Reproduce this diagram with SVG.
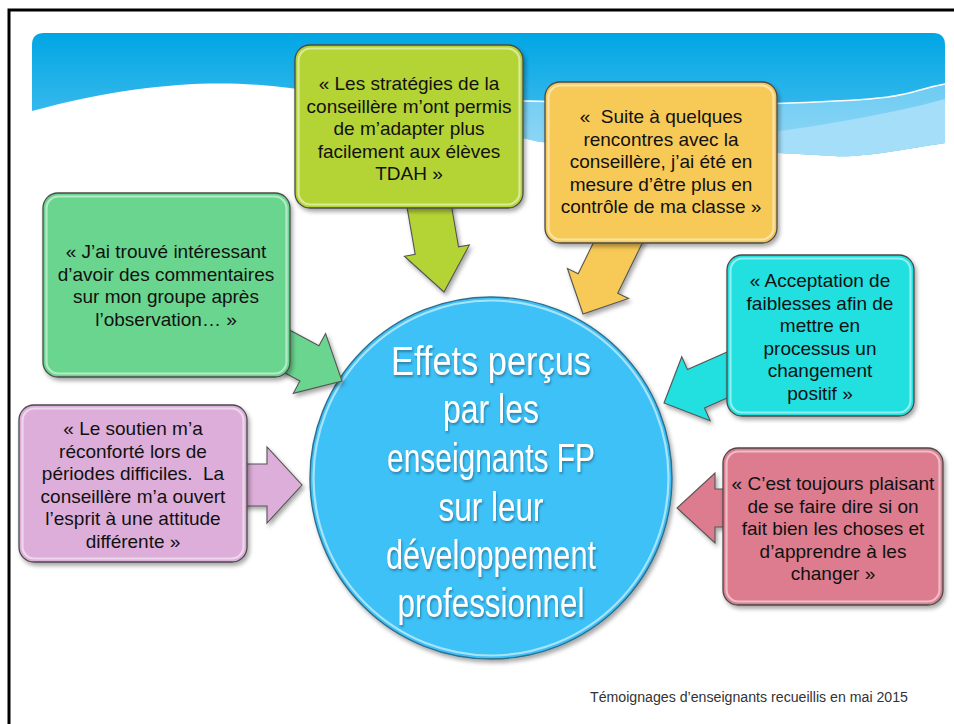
<svg xmlns="http://www.w3.org/2000/svg" width="954" height="724" viewBox="0 0 954 724">
<style>
.frame{fill:none;stroke:#000;stroke-width:3}
.box{stroke:#4a4a4a;stroke-width:1.3;filter:url(#sh)}
.gloss{fill:none;stroke:#fff;stroke-opacity:.5;stroke-width:2.2}
.arr{stroke:#555;stroke-width:1.1;filter:url(#sh)}
.t{font-family:"Liberation Sans",Arial,sans-serif;font-size:19px;fill:#111;text-anchor:middle}
.ct{font-family:"Liberation Sans",Arial,sans-serif;font-size:41px;fill:#fff;text-anchor:middle;filter:url(#tsh)}
.foot{font-family:"Liberation Sans",Arial,sans-serif;font-size:14px;fill:#333}
.green{fill:#6bd58e}.lime{fill:#b4d335}.orange{fill:#f7c956}.cyan{fill:#20dfe0}.pink{fill:#dc7b8e}.purple{fill:#ddaed9}
</style>
<defs>
<linearGradient id="bg" x1="0" y1="0" x2="0" y2="1" gradientUnits="objectBoundingBox">
<stop offset="0" stop-color="#00a6e4"/><stop offset="1" stop-color="#56c3f1"/>
</linearGradient>
<linearGradient id="band" x1="0" y1="0" x2="0" y2="1">
<stop offset="0" stop-color="#6ccbf3"/><stop offset="1" stop-color="#93d8f6"/>
</linearGradient>
<filter id="sh" x="-20%" y="-20%" width="140%" height="140%">
<feDropShadow dx="2" dy="3" stdDeviation="2" flood-color="#000" flood-opacity="0.35"/>
</filter>
<filter id="tsh" x="-10%" y="-20%" width="120%" height="150%">
<feDropShadow dx="1" dy="2" stdDeviation="1" flood-color="#1a5878" flood-opacity="0.6"/>
</filter>
</defs>
<rect class="frame" x="9" y="10" width="960" height="730"/>
<g id="banner">
<path d="M32,45 Q32,33 44,33 H933 Q945,33 945,45 V143 C900,150 860,158 834,156 C800,154 720,150 650,148 L540,142 C450,120 380,100 290,88 C220,79 140,82 32,111 Z" fill="url(#bg)"/>
<path d="M300,100 C450,95 650,108 790,103 S900,92 945,84 V143 C900,150 860,158 834,156 C800,154 720,150 650,148 L540,142 C450,122 390,108 300,100 Z" fill="url(#band)"/>
<path d="M650,146 C760,135 860,122 945,99 V143 C900,150 860,158 834,156 C800,154 720,150 650,146 Z" fill="#a4def8"/>
<path d="M300,100 C450,95 650,108 790,103 S900,92 945,84" fill="none" stroke="#fff" stroke-width="1.6"/>
</g>
<g id="center">
<circle cx="491" cy="478" r="181" fill="#3cc1f6" stroke="#2f6f8e" stroke-width="1.4" filter="url(#sh)"/>
<circle cx="491" cy="478" r="177.5" fill="none" stroke="#fff" stroke-opacity="0.55" stroke-width="2.2"/>
<text class="ct" x="491" y="375" textLength="200" lengthAdjust="spacingAndGlyphs">Effets perçus</text>
<text class="ct" x="491" y="423" textLength="96" lengthAdjust="spacingAndGlyphs">par les</text>
<text class="ct" x="491" y="472" textLength="208" lengthAdjust="spacingAndGlyphs">enseignants FP</text>
<text class="ct" x="491" y="521" textLength="105" lengthAdjust="spacingAndGlyphs">sur leur</text>
<text class="ct" x="491" y="569" textLength="210" lengthAdjust="spacingAndGlyphs">développement</text>
<text class="ct" x="491" y="617" textLength="187" lengthAdjust="spacingAndGlyphs">professionnel</text>
</g>
<g id="connectors">
<polygon class="arr green" points="235.7,346.35 299.94,381.02 293.29,393.34 342,381 325.59,333.5 318.94,345.82 254.7,311.15"/>
<polygon class="arr lime" points="403.63,187.39 415.19,254.37 404.36,256.24 444,292 469.36,245.02 458.53,246.89 446.97,179.91"/>
<polygon class="arr orange" points="611.64,205.54 578.2,273.79 567.43,268.51 583,314 628.49,298.43 617.72,293.15 651.16,224.9"/>
<polygon class="arr cyan" points="756.01,339.15 687.46,369.6 681.78,356.8 664,403 710.2,420.78 704.52,407.98 773.07,377.53"/>
<polygon class="arr pink" points="777,489 715,489 715,473 677,508 715,543 715,527 777,527"/>
<polygon class="arr purple" points="202,464 267,464 267,447 302,485 267,523 267,506 202,506"/>
</g>
<g id="box-green">
<rect class="box green" x="43" y="193" width="247" height="184" rx="15"/>
<rect class="gloss" x="46.5" y="196.5" width="240" height="177" rx="12"/>
<text class="t" x="166" y="258">« J’ai trouvé intéressant</text>
<text class="t" x="166" y="281">d’avoir des commentaires</text>
<text class="t" x="166" y="303">sur mon groupe après</text>
<text class="t" x="166" y="326">l’observation… »</text>
</g>
<g id="box-lime">
<rect class="box lime" x="295" y="45" width="228" height="163" rx="15"/>
<rect class="gloss" x="298.5" y="48.5" width="221" height="156" rx="12"/>
<text class="t" x="409" y="90">« Les stratégies de la</text>
<text class="t" x="409" y="112.5">conseillère m’ont permis</text>
<text class="t" x="409" y="135">de m’adapter plus</text>
<text class="t" x="409" y="157.5">facilement aux élèves</text>
<text class="t" x="409" y="180">TDAH »</text>
</g>
<g id="box-orange">
<rect class="box orange" x="545" y="82" width="232" height="161" rx="15"/>
<rect class="gloss" x="548.5" y="85.5" width="225" height="154" rx="12"/>
<text class="t" x="661" y="123">«&#160; Suite à quelques</text>
<text class="t" x="661" y="145.5">rencontres avec la</text>
<text class="t" x="661" y="168">conseillère, j’ai été en</text>
<text class="t" x="661" y="190.5">mesure d’être plus en</text>
<text class="t" x="661" y="213">contrôle de ma classe »</text>
</g>
<g id="box-cyan">
<rect class="box cyan" x="727" y="255" width="187" height="161" rx="15"/>
<rect class="gloss" x="730.5" y="258.5" width="180" height="154" rx="12"/>
<text class="t" x="820" y="287">« Acceptation de</text>
<text class="t" x="820" y="309.5">faiblesses afin de</text>
<text class="t" x="820" y="332">mettre en</text>
<text class="t" x="820" y="354.5">processus un</text>
<text class="t" x="820" y="377">changement</text>
<text class="t" x="820" y="399.5">positif »</text>
</g>
<g id="box-pink">
<rect class="box pink" x="723" y="448" width="220" height="157" rx="15"/>
<rect class="gloss" x="726.5" y="451.5" width="213" height="150" rx="12"/>
<text class="t" x="833" y="490">« C’est toujours plaisant</text>
<text class="t" x="833" y="513">de se faire dire si on</text>
<text class="t" x="833" y="535">fait bien les choses et</text>
<text class="t" x="833" y="558">d’apprendre à les</text>
<text class="t" x="833" y="580">changer »</text>
</g>
<g id="box-purple">
<rect class="box purple" x="19" y="405" width="228" height="157" rx="15"/>
<rect class="gloss" x="22.5" y="408.5" width="221" height="150" rx="12"/>
<text class="t" x="133" y="435">« Le soutien m’a</text>
<text class="t" x="133" y="457.5">réconforté lors de</text>
<text class="t" x="133" y="480">périodes difficiles.&#160; La</text>
<text class="t" x="133" y="502.5">conseillère m’a ouvert</text>
<text class="t" x="133" y="525">l’esprit à une attitude</text>
<text class="t" x="133" y="547.5">différente »</text>
</g>
<text class="foot" x="590" y="702" textLength="318" lengthAdjust="spacingAndGlyphs">Témoignages d’enseignants recueillis en mai 2015</text>
</svg>
